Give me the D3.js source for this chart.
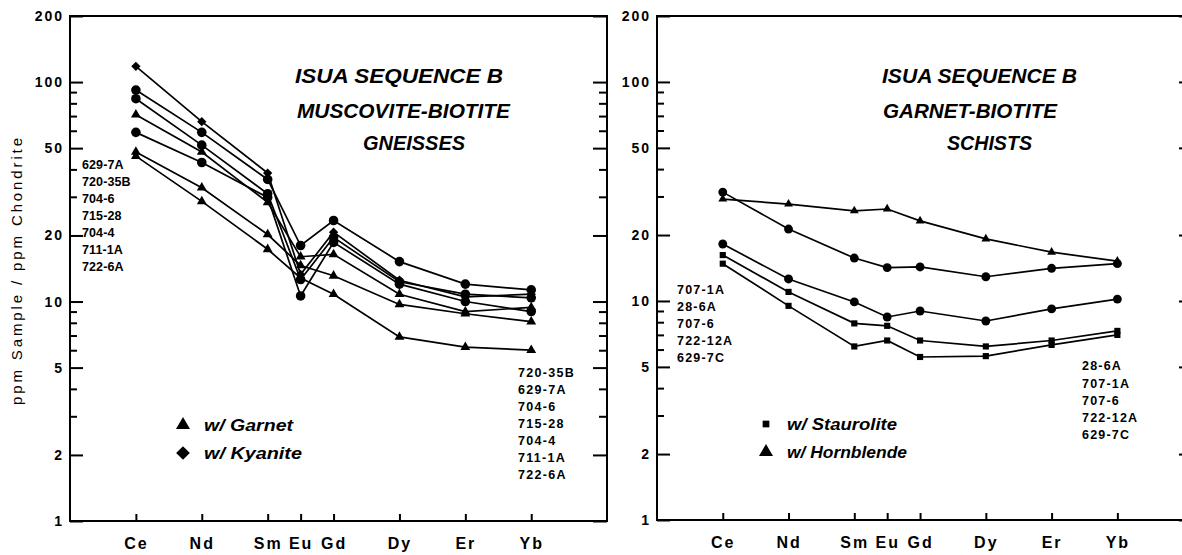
<!DOCTYPE html>
<html lang="en">
<head>
<meta charset="UTF-8">
<script src="https://d3js.org/d3.v7.min.js"></script>
<style>
  body { margin: 0; background: #fff; }
  svg text { font-family: "Liberation Sans", Arial, sans-serif; fill: #000; }
</style>
</head>
<body>
<div id="chart"></div>
<script>
// REE on the x axis, placed by atomic number
const elements = ["Ce", "Nd", "Sm", "Eu", "Gd", "Dy", "Er", "Yb"];
const atomicNumbers = [58, 60, 62, 63, 64, 66, 68, 70];

// y axis ticks
const yTicksMajor = [1, 2, 5, 10, 20, 50, 100, 200];
const yTicksMinor = [3, 4, 6, 7, 8, 9, 30, 40, 60, 70, 80, 90];

// left panel: muscovite-biotite gneisses
const s629_7A = [118, 66, 38.5, 13.3, 20.7, 12.5, 10.5, 10.8];
const s720_35B = [92, 59, 36, 18, 23.4, 15.2, 12.0, 11.3];
const s704_6 = [84, 51.6, 31, 12.6, 19.6, 12.3, 10.8, 10.4];
const s715_28 = [71, 48, 28.3, 16, 16.4, 10.8, 9.0, 9.4];
const s704_4 = [59, 43, 29.8, 10.6, 18.6, 12.0, 10.0, 9.0];
const s711_1A = [48, 33, 20.2, 14.6, 13.1, 9.7, 8.8, 8.1];
const s722_6A = [46, 28.6, 17.3, 12.8, 10.8, 6.9, 6.2, 6.0];
const leftSeries = [s629_7A, s720_35B, s704_6, s715_28, s704_4, s711_1A, s722_6A];
const leftMarkers = ["diamond", "circle", "circle", "triangle", "circle", "triangle", "triangle"];
const leftLabelsCe = ["629-7A", "720-35B", "704-6", "715-28", "704-4", "711-1A", "722-6A"];
const leftLabelsYb = ["720-35B", "629-7A", "704-6", "715-28", "704-4", "711-1A", "722-6A"];

// right panel: garnet-biotite schists
const s707_1A = [31.4, 21.3, 15.7, 14.2, 14.3, 12.9, 14.1, 14.8];
const s28_6A = [29.2, 27.7, 25.8, 26.3, 23.2, 19.2, 16.7, 15.2];
const s707_6 = [18.2, 12.6, 9.9, 8.45, 9.0, 8.1, 9.2, 10.2];
const s722_12A = [16.2, 11.0, 7.9, 7.7, 6.6, 6.2, 6.6, 7.3];
const s629_7C = [14.8, 9.5, 6.2, 6.6, 5.55, 5.6, 6.3, 7.0];
const rightSeries = [s707_1A, s28_6A, s707_6, s722_12A, s629_7C];
const rightMarkers = ["circle", "triangle", "circle", "square", "square"];
const rightLabelsCe = ["707-1A", "28-6A", "707-6", "722-12A", "629-7C"];
const rightLabelsYb = ["28-6A", "707-1A", "707-6", "722-12A", "629-7C"];

const width = 1182, height = 555;
const svg = d3.select("#chart").append("svg")
  .attr("width", width)
  .attr("height", height);

const symbols = {
  circle: d3.symbolCircle,
  triangle: d3.symbolTriangle,
  diamond: d3.symbolDiamond2 || d3.symbolDiamond,
  square: d3.symbolSquare
};

function drawPanel(p) {
  const g = svg.append("g");

  const x = d3.scaleLinear().domain([56, 72.3]).range([p.left, p.right]);
  const y = d3.scaleLog().domain([1, 200]).range([p.bottom, p.top]);

  // frame
  g.append("rect")
    .attr("x", p.left).attr("y", p.top)
    .attr("width", p.right - p.left).attr("height", p.bottom - p.top)
    .attr("fill", "none").attr("stroke", "#000").attr("stroke-width", 2);

  // left axis, ticks pointing in
  const yMaj = g.append("g")
    .attr("transform", `translate(${p.left},0)`)
    .call(d3.axisLeft(y).tickValues(yTicksMajor).tickSize(-13).tickPadding(8).tickFormat(d3.format("d")));
  const yMin = g.append("g")
    .attr("transform", `translate(${p.left},0)`)
    .call(d3.axisLeft(y).tickValues(yTicksMinor).tickSize(-7).tickFormat(""));
  // right axis
  const yMajR = g.append("g")
    .attr("transform", `translate(${p.right},0)`)
    .call(d3.axisRight(y).tickValues(yTicksMajor).tickSize(-14).tickFormat(""));
  const yMinR = g.append("g")
    .attr("transform", `translate(${p.right},0)`)
    .call(d3.axisRight(y).tickValues(yTicksMinor).tickSize(-8).tickFormat(""));

  // bottom axis
  const xAx = g.append("g")
    .attr("transform", `translate(0,${p.bottom})`)
    .call(d3.axisBottom(x).tickValues(atomicNumbers).tickSize(-7).tickPadding(17)
      .tickFormat((d, i) => elements[i]));

  [yMaj, yMin, yMajR, yMinR, xAx].forEach(a => {
    a.select(".domain").remove();
    a.selectAll(".tick line").attr("stroke", "#000").attr("stroke-width", 2);
  });
  yMaj.selectAll(".tick text")
    .style("font-size", "14px").style("font-weight", "bold").style("letter-spacing", "2px")
    .attr("dx", "2px");
  xAx.selectAll(".tick text")
    .style("font-size", "16px").style("font-weight", "bold").style("letter-spacing", "2px");

  // y axis title (left panel only)
  if (p.yTitle) {
    g.append("text")
      .attr("transform", `translate(${p.left - 48},${(p.top + p.bottom) / 2 + 3}) rotate(-90)`)
      .attr("text-anchor", "middle")
      .attr("textLength", 267)
      .attr("lengthAdjust", "spacing")
      .style("font-size", "15px")
      .text(p.yTitle);
  }

  // lines
  const line = d3.line()
    .x((d, i) => x(atomicNumbers[i]))
    .y(d => y(d));

  p.series.forEach((s, k) => {
    g.append("path")
      .datum(s)
      .attr("d", line)
      .attr("fill", "none")
      .attr("stroke", "#000")
      .attr("stroke-width", 1.7);

    g.selectAll(null)
      .data(s)
      .join("path")
      .attr("transform", (d, i) => `translate(${x(atomicNumbers[i])},${y(d)})`)
      .attr("d", d3.symbol().type(symbols[p.markers[k]]).size(p.sizes[p.markers[k]]))
      .attr("fill", "#000");
  });

  // titles
  p.titles.forEach(t => {
    g.append("text")
      .attr("x", t.x).attr("y", t.y)
      .attr("textLength", t.w)
      .attr("lengthAdjust", "spacingAndGlyphs")
      .style("font-size", "20px")
      .style("font-weight", "bold")
      .style("font-style", "italic")
      .text(t.text);
  });

  // sample labels
  p.labelBlocks.forEach(b => {
    g.selectAll(null)
      .data(b.labels)
      .join("text")
      .attr("x", b.x)
      .attr("y", (d, i) => b.y + i * b.step)
      .attr("dy", "0.35em")
      .style("font-size", "12.5px")
      .style("font-weight", "bold")
      .style("letter-spacing", b.spacing + "px")
      .text(d => d);
  });

  // legend
  p.legend.forEach(l => {
    g.append("path")
      .attr("transform", `translate(${l.x},${l.y})`)
      .attr("d", d3.symbol().type(symbols[l.marker]).size(l.size))
      .attr("fill", "#000");
    g.append("text")
      .attr("x", l.x + 21).attr("y", l.y)
      .attr("dy", "0.35em")
      .attr("textLength", l.w)
      .attr("lengthAdjust", "spacingAndGlyphs")
      .style("font-size", "16px")
      .style("font-weight", "bold")
      .style("font-style", "italic")
      .text(l.text);
  });
}

drawPanel({
  left: 70, right: 607, top: 16, bottom: 521,
  yTitle: "ppm Sample / ppm Chondrite",
  series: leftSeries,
  markers: leftMarkers,
  sizes: { circle: 72, triangle: 42, diamond: 55, square: 40 },
  titles: [
    { text: "ISUA SEQUENCE B", x: 295, y: 83, w: 208 },
    { text: "MUSCOVITE-BIOTITE", x: 297, y: 118, w: 213 },
    { text: "GNEISSES", x: 363, y: 150, w: 102 }
  ],
  labelBlocks: [
    { labels: leftLabelsCe, x: 82, y: 165, step: 17, spacing: 0.1 },
    { labels: leftLabelsYb, x: 518, y: 373, step: 17, spacing: 1.3 }
  ],
  legend: [
    { marker: "triangle", size: 85, x: 183, y: 425, text: "w/ Garnet", w: 89 },
    { marker: "diamond", size: 120, x: 183, y: 453, text: "w/ Kyanite", w: 98 }
  ]
});

drawPanel({
  left: 657, right: 1193, top: 16, bottom: 520,
  yTitle: null,
  series: rightSeries,
  markers: rightMarkers,
  sizes: { circle: 62, triangle: 34, diamond: 50, square: 38 },
  titles: [
    { text: "ISUA SEQUENCE B", x: 882, y: 83, w: 195 },
    { text: "GARNET-BIOTITE", x: 883, y: 118, w: 174 },
    { text: "SCHISTS", x: 947, y: 150, w: 85 }
  ],
  labelBlocks: [
    { labels: rightLabelsCe, x: 677, y: 290, step: 16.8, spacing: 1.2 },
    { labels: rightLabelsYb, x: 1082, y: 366, step: 17.2, spacing: 1.2 }
  ],
  legend: [
    { marker: "square", size: 45, x: 766, y: 424, text: "w/ Staurolite", w: 110 },
    { marker: "triangle", size: 85, x: 766, y: 452, text: "w/ Hornblende", w: 120 }
  ]
});
</script>
</body>
</html>
